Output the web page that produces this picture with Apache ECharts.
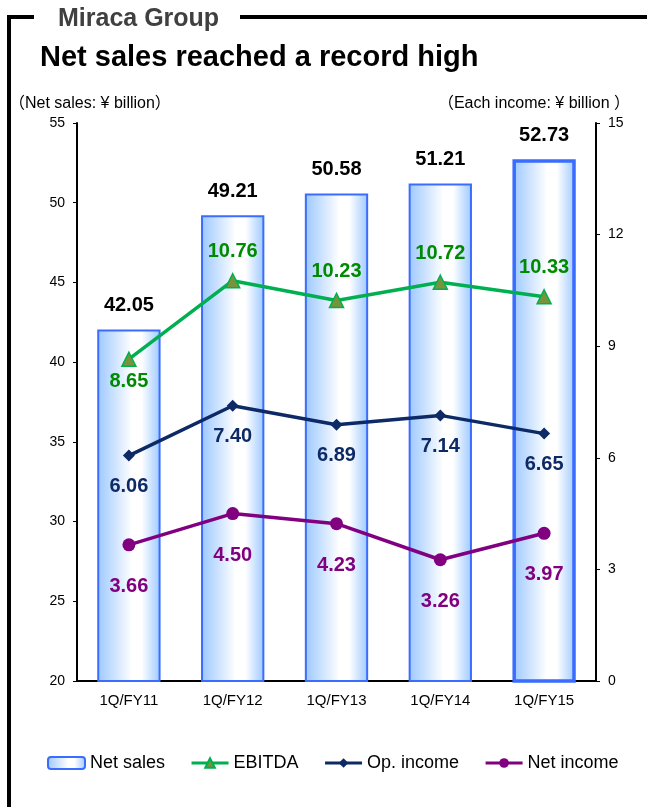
<!DOCTYPE html>
<html lang="en">
<head>
    <meta charset="UTF-8">
    <title>Miraca Group</title>
    <script src="https://cdn.jsdelivr.net/npm/echarts@6.0.0/dist/echarts.min.js"></script>
    <style>
        html, body { margin: 0; padding: 0; background: #fff; }
    </style>
</head>
<body>
    <div id="chart" style="width: 647px; height: 807px;"></div>
    <script>
        // data
        const categories = ['1Q/FY11', '1Q/FY12', '1Q/FY13', '1Q/FY14', '1Q/FY15'];
        const netSales = [42.05, 49.21, 50.58, 51.21, 52.73];
        const ebitda = [8.65, 10.76, 10.23, 10.72, 10.33];
        const opIncome = [6.06, 7.40, 6.89, 7.14, 6.65];
        const netIncome = [3.66, 4.50, 4.23, 3.26, 3.97];

        const font = '"Liberation Sans", Arial, "Noto Sans CJK JP", sans-serif';

        var myChart = echarts.init(document.getElementById('chart'));

        const barFill = new echarts.graphic.LinearGradient(0, 0, 1, 0, [
            { offset: 0, color: '#9cc8ff' },
            { offset: 0.55, color: '#ffffff' },
            { offset: 0.7, color: '#ffffff' },
            { offset: 1, color: '#9cc8ff' }
        ]);

        const valueLabel = (color, pos, dist) => ({
            show: true,
            position: pos,
            distance: dist,
            color: color,
            fontSize: 20,
            fontWeight: 'bold',
            fontFamily: font,
            formatter: p => p.value.toFixed(2)
        });

        const option = {
            animation: false,
            textStyle: { fontFamily: font },
            title: [
                {
                    text: 'Miraca Group',
                    left: 53, top: 2,
                    textStyle: { fontSize: 25, fontWeight: 'bold', color: '#404040', fontFamily: font }
                },
                {
                    text: 'Net sales reached a record high',
                    left: 35, top: 38,
                    textStyle: { fontSize: 29, fontWeight: 'bold', color: '#000', fontFamily: font }
                },
                {
                    text: '（Net sales: ¥ billion）',
                    left: 4, top: 91,
                    textStyle: { fontSize: 16, fontWeight: 'normal', color: '#000', fontFamily: font }
                },
                {
                    text: '（Each income: ¥ billion ）',
                    right: 12, top: 91,
                    textStyle: { fontSize: 16, fontWeight: 'normal', color: '#000', fontFamily: font }
                }
            ],
            graphic: [
                {
                    type: 'polyline',
                    shape: { points: [[34, 17], [9, 17], [9, 807]] },
                    style: { stroke: '#000', lineWidth: 4, fill: null }
                },
                {
                    type: 'line',
                    shape: { x1: 240, y1: 17, x2: 647, y2: 17 },
                    style: { stroke: '#000', lineWidth: 4 }
                }
            ],
            legend: {
                left: 42,
                top: 749,
                itemGap: 25,
                itemWidth: 37,
                itemHeight: 12,
                lineStyle: { width: 3 },
                textStyle: { fontSize: 18, color: '#000', fontFamily: font },
                data: ['Net sales', 'EBITDA', 'Op. income', 'Net income']
            },
            grid: { left: 77, right: 51, top: 123, bottom: 126 },
            xAxis: {
                type: 'category',
                data: categories,
                axisLine: { lineStyle: { color: '#000', width: 2 } },
                axisTick: { inside: true, length: 5, lineStyle: { color: '#000' } },
                axisLabel: { color: '#000', fontSize: 15, margin: 12 }
            },
            yAxis: [
                {
                    type: 'value',
                    min: 20, max: 55, interval: 5,
                    splitLine: { show: false },
                    axisLine: { show: true, lineStyle: { color: '#000', width: 2 } },
                    axisTick: { show: true, length: 4, lineStyle: { color: '#000' } },
                    axisLabel: { color: '#000', fontSize: 14, margin: 12 }
                },
                {
                    type: 'value',
                    min: 0, max: 15, interval: 3,
                    splitLine: { show: false },
                    axisLine: { show: true, lineStyle: { color: '#000', width: 2 } },
                    axisTick: { show: true, length: 4, lineStyle: { color: '#000' } },
                    axisLabel: { color: '#000', fontSize: 14, margin: 12 }
                }
            ],
            series: [
                {
                    name: 'Net sales',
                    type: 'bar',
                    barWidth: '61%',
                    itemStyle: { color: barFill, borderColor: '#3a6cff', borderWidth: 2 },
                    label: valueLabel('#000', 'top', 14),
                    data: netSales.map((v, i) => i === netSales.length - 1
                        ? { value: v, itemStyle: { borderWidth: 3.5 } }
                        : v),
                    z: 1
                },
                {
                    name: 'EBITDA',
                    type: 'line',
                    yAxisIndex: 1,
                    symbol: 'triangle',
                    symbolSize: 14,
                    lineStyle: { color: '#00b050', width: 3.5 },
                    itemStyle: { color: '#77933c', borderColor: '#00b050', borderWidth: 1.5 },
                    label: valueLabel('#008a00', 'top', 11),
                    data: ebitda.map((v, i) => i === 0
                        ? { value: v, label: { position: 'bottom', distance: 5 } }
                        : v),
                    z: 5
                },
                {
                    name: 'Op. income',
                    type: 'line',
                    yAxisIndex: 1,
                    symbol: 'diamond',
                    symbolSize: 12,
                    lineStyle: { color: '#0d2a66', width: 3.5 },
                    itemStyle: { color: '#0d2a66' },
                    label: valueLabel('#0d2a66', 'bottom', 15),
                    data: opIncome,
                    z: 5
                },
                {
                    name: 'Net income',
                    type: 'line',
                    yAxisIndex: 1,
                    symbol: 'circle',
                    symbolSize: 13,
                    lineStyle: { color: '#800080', width: 3.5 },
                    itemStyle: { color: '#800080' },
                    label: valueLabel('#800080', 'bottom', 25),
                    data: netIncome,
                    z: 5
                }
            ]
        };

        myChart.setOption(option);
    </script>
</body>
</html>
